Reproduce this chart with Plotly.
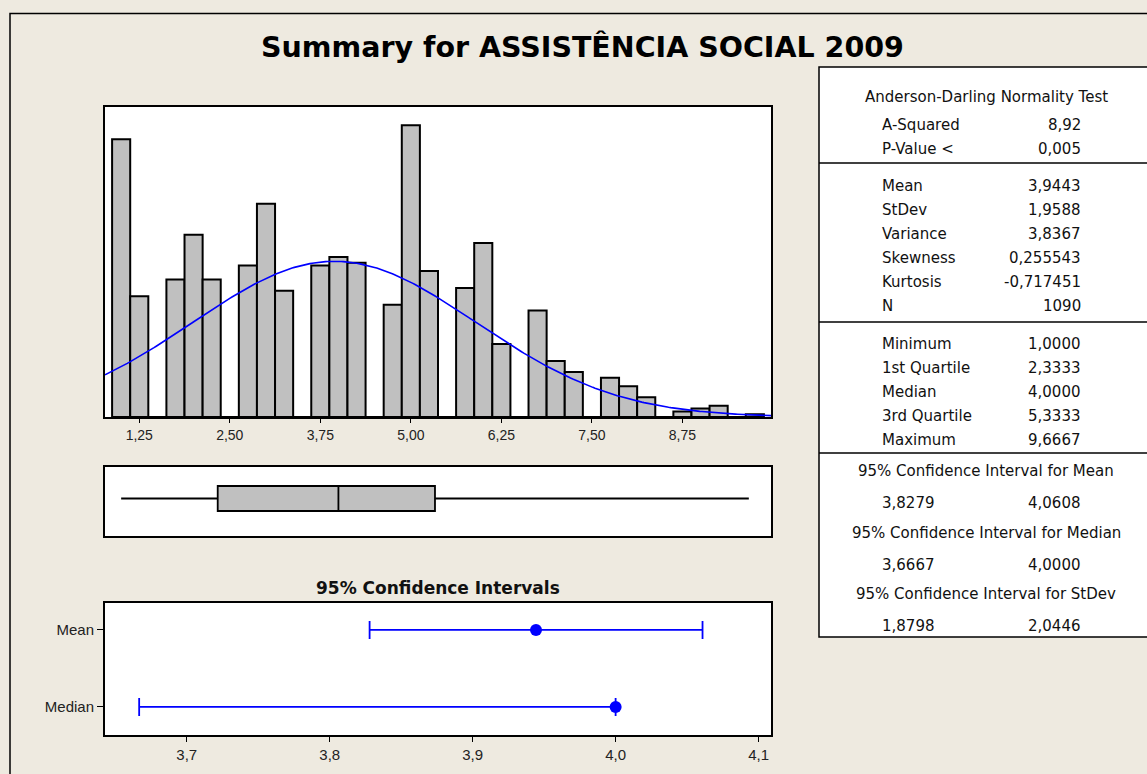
import numpy as np
import plotly.graph_objects as go

# ---------------- data ----------------
BIN_CENTERS = [1.0, 1.25, 1.5, 1.75, 2.0, 2.25, 2.5, 2.75, 3.0, 3.25, 3.5, 3.75, 4.0, 4.25, 4.5,
               4.75, 5.0, 5.25, 5.5, 5.75, 6.0, 6.25, 6.5, 6.75, 7.0, 7.25, 7.5, 7.75, 8.0, 8.25,
               8.5, 8.75, 9.0, 9.25, 9.5, 9.75]
COUNTS = [99, 43, 0, 49, 65, 49, 0, 54, 76, 45, 0, 54, 57, 55, 0,
          40, 104, 52, 0, 46, 62, 26, 0, 38, 20, 16, 0, 14, 11, 7,
          0, 2, 3, 4, 0, 1]
BIN_WIDTH = 0.25
HIST_TICKS = [1.25, 2.50, 3.75, 5.00, 6.25, 7.50, 8.75]
HIST_TICKTEXT = ["1,25", "2,50", "3,75", "5,00", "6,25", "7,50", "8,75"]

N = 1090
MEAN = 3.9443
STDEV = 1.9588
MINIMUM = 1.0
Q1 = 2.3333
MEDIAN = 4.0
Q3 = 5.3333
MAXIMUM = 9.6667
CI_MEAN = [3.8279, 4.0608]
CI_MEDIAN = [3.6667, 4.0000]

CI_TICKS = [3.7, 3.8, 3.9, 4.0, 4.1]
CI_TICKTEXT = ["3,7", "3,8", "3,9", "4,0", "4,1"]
CI_LABELS = ["Mean", "Median"]

TITLE = "Summary for ASSISTÊNCIA SOCIAL 2009"
CI_TITLE = "95% Confidence Intervals"

AD_HEADER = "Anderson-Darling Normality Test"
AD_LABELS = ["A-Squared", "P-Value <"]
AD_VALUES = ["8,92", "0,005"]
MOM_LABELS = ["Mean", "StDev", "Variance", "Skewness", "Kurtosis", "N"]
MOM_VALUES = ["3,9443", "1,9588", "3,8367", "0,255543", "-0,717451", "1090"]
QUART_LABELS = ["Minimum", "1st Quartile", "Median", "3rd Quartile", "Maximum"]
QUART_VALUES = ["1,0000", "2,3333", "4,0000", "5,3333", "9,6667"]
CI_HEADERS = ["95% Confidence Interval for Mean", "95% Confidence Interval for Median",
              "95% Confidence Interval for StDev"]
CI_VALUES = [["3,8279", "4,0608"], ["3,6667", "4,0000"], ["1,8798", "2,0446"]]

# ---------------- layout helpers ----------------
W, H = 1147, 774
BG = "#EEEAE0"


def px(x):
    return x / W


def py(y):
    return 1 - y / H


fig = go.Figure()

# histogram
fig.add_trace(go.Bar(x=BIN_CENTERS, y=COUNTS, width=BIN_WIDTH,
                     marker=dict(color="#C0C0C0", line=dict(color="black", width=2)),
                     xaxis="x", yaxis="y", showlegend=False, hoverinfo="skip"))

# fitted normal curve (from the shown mean / stdev)
xs = np.linspace(0.777, 9.973, 300)
ys = N * BIN_WIDTH * np.exp(-0.5 * ((xs - MEAN) / STDEV) ** 2) / (STDEV * np.sqrt(2 * np.pi))
fig.add_trace(go.Scatter(x=xs, y=ys, mode="lines", line=dict(color="#0000FF", width=1.6),
                         xaxis="x", yaxis="y", showlegend=False, hoverinfo="skip"))

# boxplot
fig.add_trace(go.Box(q1=[Q1], median=[MEDIAN], q3=[Q3], lowerfence=[MINIMUM], upperfence=[MAXIMUM],
                     y=[0], orientation="h", width=1.0, whiskerwidth=0, boxpoints=False,
                     fillcolor="#C0C0C0", line=dict(color="black", width=1.8),
                     xaxis="x2", yaxis="y2", showlegend=False, hoverinfo="skip"))

# confidence intervals
fig.add_trace(go.Scatter(
    x=[MEAN, MEDIAN], y=[1, 0], mode="markers",
    marker=dict(color="#0000FF", size=12),
    error_x=dict(type="data", symmetric=False,
                 array=[CI_MEAN[1] - MEAN, CI_MEDIAN[1] - MEDIAN],
                 arrayminus=[MEAN - CI_MEAN[0], MEDIAN - CI_MEDIAN[0]],
                 color="#0000FF", thickness=1.8, width=9),
    xaxis="x3", yaxis="y3", showlegend=False, hoverinfo="skip"))

frame = dict(showline=True, mirror=True, linecolor="black", linewidth=2,
             showgrid=False, zeroline=False)
tickfont = dict(family="Liberation Sans, Arial, sans-serif", size=14, color="#222")
narrow = dict(family="Liberation Sans Narrow, Arial Narrow, Liberation Sans, sans-serif", size=15,
              color="#222")

X_DOM = [px(105), px(771)]

layout = dict(
    width=W, height=H, margin=dict(l=0, r=0, t=0, b=0),
    paper_bgcolor=BG, plot_bgcolor="white",
    xaxis=dict(domain=X_DOM, anchor="y", range=[0.777, 9.973], tickvals=HIST_TICKS,
               ticktext=HIST_TICKTEXT, ticks="outside", ticklen=4, tickcolor="black",
               tickfont=tickfont, **frame),
    yaxis=dict(domain=[py(417), py(107)], anchor="x", range=[0, 110.5], showticklabels=False,
               ticks="", **frame),
    xaxis2=dict(domain=X_DOM, anchor="y2", range=[0.777, 9.973], showticklabels=False, ticks="",
                **frame),
    yaxis2=dict(domain=[py(536), py(467)], anchor="x2", range=[-1.5, 1.26], showticklabels=False,
                ticks="", **frame),
    xaxis3=dict(domain=X_DOM, anchor="y3", range=[3.6428, 4.1087], tickvals=CI_TICKS,
                ticktext=CI_TICKTEXT, ticks="outside", ticklen=5, tickcolor="black",
                tickfont=narrow, **frame),
    yaxis3=dict(domain=[py(735), py(603)], anchor="x3", range=[-0.364, 1.35], tickvals=[1, 0],
                ticktext=CI_LABELS, ticks="outside", ticklen=6, tickcolor="black",
                tickfont=narrow, **frame),
)
fig.update_layout(**layout)

shapes = []
# outer frame
shapes.append(dict(type="rect", xref="paper", yref="paper", x0=px(10), y0=py(790), x1=px(1160),
                   y1=py(13.5), line=dict(color="black", width=1.5), fillcolor="rgba(0,0,0,0)",
                   layer="below"))
# table
T_L, T_R, T_T, T_B = 819, 1160, 67, 637
shapes.append(dict(type="rect", xref="paper", yref="paper", x0=px(T_L), y0=py(T_B), x1=px(T_R),
                   y1=py(T_T), line=dict(color="black", width=1.5), fillcolor="white", layer="below"))
for ysep in [163, 322, 453]:
    shapes.append(dict(type="line", xref="paper", yref="paper", x0=px(T_L), x1=px(T_R),
                       y0=py(ysep), y1=py(ysep), line=dict(color="black", width=1.5)))
fig.update_layout(shapes=shapes)

ann = []
tfont = dict(family="DejaVu Sans, Verdana, sans-serif", size=15, color="#111")


def text(x, y, s, anchor="left", font=tfont):
    ann.append(dict(xref="paper", yref="paper", x=px(x), y=py(y), text=s, showarrow=False,
                    xanchor=anchor, yanchor="middle", font=font))


LAB_X, VAL_X, MID_X = 880, 1083, 986
text(MID_X, 97, AD_HEADER, "center")
for i, (l, v) in enumerate(zip(AD_LABELS, AD_VALUES)):
    text(LAB_X, 125 + 24 * i, l)
    text(VAL_X, 125 + 24 * i, v, "right")
for i, (l, v) in enumerate(zip(MOM_LABELS, MOM_VALUES)):
    text(LAB_X, 186 + 24 * i, l)
    text(VAL_X, 186 + 24 * i, v, "right")
for i, (l, v) in enumerate(zip(QUART_LABELS, QUART_VALUES)):
    text(LAB_X, 344 + 24 * i, l)
    text(VAL_X, 344 + 24 * i, v, "right")
for i, (h, vals) in enumerate(zip(CI_HEADERS, CI_VALUES)):
    yh = 471 + 61.5 * i
    text(MID_X, yh, h, "center")
    text(LAB_X, yh + 32, vals[0])
    text(VAL_X, yh + 32, vals[1], "right")

# titles
text(582, 47, "<b>" + TITLE + "</b>", "center",
     dict(family="DejaVu Sans, Verdana, sans-serif", size=28.5, color="black"))
text(438, 588, "<b>" + CI_TITLE + "</b>", "center",
     dict(family="DejaVu Sans, Verdana, sans-serif", size=17, color="#111"))

fig.update_layout(annotations=ann)
fig.write_html("out.html", config={"displayModeBar": False},
               post_script="document.body.style.margin='0px';")
